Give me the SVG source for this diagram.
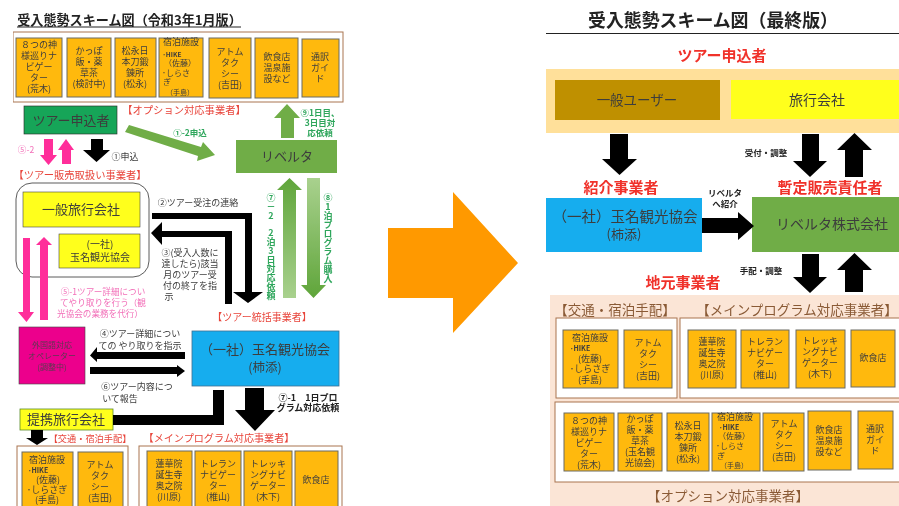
<svg xmlns="http://www.w3.org/2000/svg" width="899" height="506" viewBox="0 0 899 506">
<defs>
<filter id="soft" x="0" y="0" width="100%" height="100%"><feGaussianBlur stdDeviation="0.35"/></filter>
<linearGradient id="gUp" x1="0" y1="0" x2="0" y2="1"><stop offset="0" stop-color="#5FA53A"/><stop offset="1" stop-color="#A9D18E"/></linearGradient>
<linearGradient id="gDn" x1="0" y1="0" x2="0" y2="1"><stop offset="0" stop-color="#A9D18E"/><stop offset="1" stop-color="#5FA53A"/></linearGradient>
</defs>
<style>
text{font-family:"Noto Sans CJK JP","Liberation Sans",sans-serif;fill:#3c3c3c;text-anchor:middle}
.o{fill:#FFB911;stroke:#6a6a62;stroke-width:1}
.f{fill:#fff;stroke:#A9744F;stroke-width:1}
.s{font-size:9px}
.s8{font-size:8px}
.s10{font-size:10px}
.r{fill:#E8443A}
.rb{fill:#F0302A;font-weight:700;font-size:15px}
.bn{fill:#8a5a36;font-size:13.5px}
.g{fill:#2FA65C;font-weight:700;font-size:8.5px}
.p{fill:#F26FB8;font-size:8.6px}
.k{fill:#222;font-weight:700;font-size:9px}
.v{writing-mode:vertical-rl;text-orientation:upright;text-anchor:start}
.h{font-size:7px;font-weight:700;text-anchor:start}
</style>
<g filter="url(#soft)">
<g id="left-title"><text x="129.500" y="25" style="font-size:13.1px;font-weight:700;fill:#222">受入態勢スキーム図（令和3年1月版）</text><path d="M17 27H241" stroke="#222" stroke-width="1.2"/></g>

<g id="left-option">
<rect class="f" x="13" y="32" width="330" height="70"/>
<rect class="o" x="16" y="38" width="46" height="59"/><text class="s" x="39" y="48">８つの神<tspan x="39" dy="11">様巡りナ</tspan><tspan x="39" dy="11">ビゲー</tspan><tspan x="39" dy="11">ター</tspan><tspan x="39" dy="11">(荒木)</tspan></text>
<rect class="o" x="67" y="38" width="44" height="59"/><text class="s" x="89" y="54">かっぽ<tspan x="89" dy="11">飯・薬</tspan><tspan x="89" dy="11">草茶</tspan><tspan x="89" dy="11">(検討中)</tspan></text>
<rect class="o" x="115" y="38" width="41" height="59"/><text class="s" x="135" y="54">松永日<tspan x="135" dy="11">本刀鍛</tspan><tspan x="135" dy="11">錬所</tspan><tspan x="135" dy="11">(松永)</tspan></text>
<rect class="o" x="159" y="38" width="44" height="59"/><text class="s" x="181" y="45">宿泊施設</text><text class="s8" x="172" y="57" style="font-size:6.5px;font-weight:700">･HIKE</text><text class="s8" x="180" y="66">（佐藤）</text><text class="s8" x="176" y="76">･しらさ</text><text class="s8" x="167" y="85">ぎ</text><text class="s8" x="180" y="95" style="font-size:7px">（手島）</text>
<rect class="o" x="209" y="38" width="42" height="60"/><text class="s" x="230" y="55">アトム<tspan x="230" dy="11">タク</tspan><tspan x="230" dy="11">シー</tspan><tspan x="230" dy="11">(吉田)</tspan></text>
<rect class="o" x="255" y="38" width="43" height="60"/><text class="s" x="277" y="60">飲食店<tspan x="277" dy="11">温泉施</tspan><tspan x="277" dy="11">設など</tspan></text>
<rect class="o" x="302" y="39" width="37" height="58"/><text class="s" x="320" y="60">通訳<tspan x="320" dy="11">ガイ</tspan><tspan x="320" dy="11">ド</tspan></text>
<text class="r" x="184" y="114" style="font-size:10.3px">【オプション対応事業者】</text>
</g>

<g id="left-applicant"><rect x="24" y="106" width="93" height="28" fill="#18A558" stroke="#222" stroke-width=".6"/><text x="71" y="125" style="font-size:13px">ツアー申込者</text></g>
<g id="left-revelta"><rect x="236" y="140" width="101" height="33" fill="#70AD47"/><text x="287" y="161" style="font-size:13px">リベルタ</text></g>

<g id="left-sales">
<text class="r" x="80" y="179" style="font-size:10.3px">【ツアー販売取扱い事業者】</text>
<rect x="16" y="183" width="133" height="94" rx="16" fill="#fff" stroke="#333" stroke-width=".8"/>
<rect x="23" y="192" width="117" height="35" fill="#FFFF1A" stroke="#444" stroke-width=".6"/><text x="81" y="214" style="font-size:13px">一般旅行会社</text>
<rect x="59" y="234" width="81" height="34" fill="#FFFF1A" stroke="#444" stroke-width=".6"/><text class="s10" x="100" y="248">(一社)</text><text class="s10" x="100" y="261">玉名観光協会</text>
</g>

<g id="left-operator"><rect x="19" y="327" width="66" height="57" fill="#EC008C" stroke="#444" stroke-width=".6"/><text class="s8" x="52" y="348" style="fill:#5a3a50">外国語対応<tspan x="52" dy="11">オペレーター</tspan><tspan x="52" dy="11">(調整中)</tspan></text></g>
<g id="left-tamana"><rect x="192" y="331" width="147" height="55" fill="#17ADEE" stroke="#3d6f91" stroke-width=".8"/><text x="265" y="354" style="font-size:13px">（一社）玉名観光協会</text><text x="265" y="372" style="font-size:12.5px">(柿添)</text></g>
<g id="left-partner"><rect x="20" y="409" width="93" height="21" fill="#FFFF1A" stroke="#5b8a2b" stroke-width=".8"/><text x="66" y="424" style="font-size:13px">提携旅行会社</text></g>

<g id="left-transport">
<text class="r" x="90" y="442" style="font-size:9.2px">【交通・宿泊手配】</text>
<rect class="f" x="17" y="446" width="111" height="70"/>
<rect class="o" x="22" y="452" width="51" height="60"/><text class="s" x="47" y="463">宿泊施設</text><text class="h" x="28" y="473">･HIKE</text><text class="s" x="48" y="483">(佐藤)</text><text class="s" x="47" y="493">･しらさぎ</text><text class="s" x="47" y="503">(手島)</text>
<rect class="o" x="78" y="452" width="45" height="60"/><text class="s" x="100" y="468">アトム<tspan x="100" dy="11">タク</tspan><tspan x="100" dy="11">シー</tspan><tspan x="100" dy="11">(吉田)</tspan></text>
</g>
<g id="left-main">
<text class="r" x="219" y="442" style="font-size:10.1px">【メインプログラム対応事業者】</text>
<rect class="f" x="139" y="446" width="203" height="70"/>
<rect class="o" x="147" y="451" width="45" height="60"/><text class="s" x="169" y="467">蓮華院<tspan x="169" dy="11">誕生寺</tspan><tspan x="169" dy="11">奥之院</tspan><tspan x="169" dy="11">(川原)</tspan></text>
<rect class="o" x="195" y="451" width="46" height="60"/><text class="s" x="218" y="467">トレラン<tspan x="218" dy="11">ナビゲー</tspan><tspan x="218" dy="11">ター</tspan><tspan x="218" dy="11">(椎山)</tspan></text>
<rect class="o" x="244" y="451" width="48" height="60"/><text class="s" x="268" y="467">トレッキ<tspan x="268" dy="11">ングナビ</tspan><tspan x="268" dy="11">ゲーター</tspan><tspan x="268" dy="11">(木下)</tspan></text>
<rect class="o" x="295" y="451" width="43" height="60"/><text class="s" x="316" y="483">飲食店</text>
</g>

<g id="left-connectors">
<polygon points="125,132 129,125 201,147 203,142 215,155 197,161 198,156" fill="#70AD47"/>
<polygon points="281,138 294,138 294,118 300,118 287,104 274,118 281,118" fill="#70AD47"/>
<path d="M44 139H53V155H57L48.500 165L40 155H44Z" fill="#FF2E9A"/>
<path d="M62 164H71V150H74L66 139L58 150H62Z" fill="#FF2E9A"/>
<path d="M91 139H103V150H110L96.500 162L83 150H91Z" fill="#000"/>
<path d="M23 238H30V312H34L26.500 322L18 312H23Z" fill="#FF2E9A"/>
<path d="M40 320H48V245H52L44 237L36 245H40Z" fill="#FF2E9A"/>
<path d="M152 213H252V292H263L248 303L233 292H245V219H152Z" fill="#000"/>
<path d="M232 304H225V237H162V245L151 233L162 222V231H232Z" fill="#000"/>
<path d="M283 298H296V190H302L289.500 178L277 190H283Z" fill="url(#gUp)"/>
<path d="M307 178H320V285H326L313.500 298L301 285H307Z" fill="url(#gDn)"/>
<path d="M185 352V359H97V362L90 355.500L97 347V352Z" fill="#000"/>
<path d="M90 367H177V365L185 371L177 377V374H90Z" fill="#000"/>
<path d="M113 415H213V390H224V425H113Z" fill="#000"/>
<path d="M245 388H264V410H275L255 431L235 410H245Z" fill="#000"/>
<path d="M31 430H43V438H48L37 445L26 438H31Z" fill="#000"/>
</g>

<g id="left-labels">
<text class="g" x="320" y="116">⑨1日目、<tspan x="320" dy="10">3日目対</tspan><tspan x="320" dy="10">応依頼</tspan></text>
<text class="g" x="190" y="136">①-2申込</text>
<text class="p" x="26" y="153">⑤-2</text>
<text class="s" x="125" y="160">①申込</text>
<text class="s" x="198" y="206">②ツアー受注の連絡</text>
<text class="s" x="190" y="256">③(受入人数に<tspan x="190" dy="11">達したら)該当</tspan><tspan x="190" dy="11">月のツアー受</tspan><tspan x="190" dy="11">付の終了を指</tspan><tspan x="169" dy="11">示</tspan></text>
<text class="p" x="103" y="295">⑤-1ツアー詳細につい<tspan x="103" dy="11">てやり取りを行う（観</tspan><tspan x="100" dy="11">光協会の業務を代行）</tspan></text>
<text class="g v" x="271" y="193" style="font-size:9px">⑦－2</text>
<text class="g v" x="271" y="228" style="font-size:9px">2泊3日対応依頼</text>
<text class="g v" x="328" y="193" style="font-size:9px">⑧1泊プログラム購入</text>
<text class="r" x="262" y="321" style="font-size:10px">【ツアー統括事業者】</text>
<text class="s" x="140" y="337">④ツアー詳細につい</text><text class="s" x="140" y="349">ての やり取りを指示</text>
<text class="s" x="137" y="390">⑥ツアー内容につ</text><text class="s" x="120" y="402">いて報告</text>
<text class="k" x="308" y="401">⑦-1　1日プロ</text><text class="k" x="308" y="411">グラム対応依頼</text>
</g>

<g id="center-arrow"><polygon points="388,228 453,228 453,192 518,263 453,333 453,298 388,298" fill="#FF9900"/></g>

<g id="right-title"><text x="713" y="27" style="font-size:17.9px;font-weight:700;fill:#222">受入態勢スキーム図（最終版）</text><path d="M546 33.500H899" stroke="#222" stroke-width="1"/></g>
<g id="right-applicants">
<text class="rb" x="722" y="61">ツアー申込者</text>
<rect x="546" y="69" width="353" height="64" fill="#FFE09A"/>
<rect x="555" y="80" width="165" height="40" fill="#BF9000"/><text x="637" y="105" style="font-size:13.500px">一般ユーザー</text>
<rect x="731" y="80" width="168" height="39" fill="#FFFF1A"/><text x="817" y="105" style="font-size:14px">旅行会社</text>
</g>
<g id="right-intro"><text class="rb" x="621" y="193">紹介事業者</text><rect x="546" y="198" width="156" height="54" fill="#17ADEE"/><text x="625" y="222" style="font-size:14.5px">（一社）玉名観光協会</text><text x="624" y="239" style="font-size:13px">(柿添)</text></g>
<g id="right-seller"><text class="rb" x="830" y="193">暫定販売責任者</text><rect x="752" y="197" width="147" height="55" fill="#70AD47"/><text x="832" y="229" style="font-size:14px">リベルタ株式会社</text></g>
<g id="right-connectors">
<path d="M610 134H628V159H637L619.500 175L602 159H610Z" fill="#000"/>
<path d="M802 134H819V161H827L810 177L793 161H802Z" fill="#000"/>
<path d="M845 177H863V150H872L854.500 133L837 150H845Z" fill="#000"/>
<path d="M702 218H738V212L754 226L738 240V233H702Z" fill="#000"/>
<path d="M802 254H819V277H827L810 293L793 277H802Z" fill="#000"/>
<path d="M845 292H863V270H872L854.500 253L837 270H845Z" fill="#000"/>
</g>
<g id="right-labels">
<text class="k" x="766" y="156" style="font-size:8.500px">受付・調整</text>
<text class="k" x="725" y="196" style="font-size:8.500px">リベルタ</text><text class="k" x="725" y="207" style="font-size:8.500px">へ紹介</text>
<text class="k" x="761" y="274" style="font-size:8.500px">手配・調整</text>
<text class="rb" x="683" y="288">地元事業者</text>
</g>
<g id="right-local">
<rect x="550" y="295" width="349" height="211" fill="#FBE5D6"/>
<text class="bn" x="615" y="315">【交通・宿泊手配】</text>
<text class="bn" x="797" y="315">【メインプログラム対応事業者】</text>
<rect class="f" x="556" y="318" width="121" height="80"/>
<rect class="f" x="680" y="318" width="225" height="80"/>
<rect class="f" x="555" y="402" width="350" height="80"/>
<text class="bn" x="728" y="501">【オプション対応事業者】</text>
</g>
<g id="right-transport">
<rect class="o" x="563" y="330" width="55" height="58"/><text class="s" x="590" y="341">宿泊施設</text><text class="h" x="570" y="351">･HIKE</text><text class="s" x="590" y="362">(佐藤)</text><text class="s" x="590" y="372">･しらさぎ</text><text class="s" x="590" y="383">(手島)</text>
<rect class="o" x="624" y="330" width="48" height="58"/><text class="s" x="648" y="346">アトム<tspan x="648" dy="11">タク</tspan><tspan x="648" dy="11">シー</tspan><tspan x="648" dy="11">(吉田)</tspan></text>
</g>
<g id="right-main">
<rect class="o" x="688" y="330" width="48" height="58"/><text class="s" x="712" y="345">蓮華院<tspan x="712" dy="11">誕生寺</tspan><tspan x="712" dy="11">奥之院</tspan><tspan x="712" dy="11">(川原)</tspan></text>
<rect class="o" x="741" y="330" width="48" height="58"/><text class="s" x="765" y="345">トレラン<tspan x="765" dy="11">ナビゲー</tspan><tspan x="765" dy="11">ター</tspan><tspan x="765" dy="11">(椎山)</tspan></text>
<rect class="o" x="796" y="330" width="49" height="58"/><text class="s" x="820" y="344">トレッキ<tspan x="820" dy="11">ングナビ</tspan><tspan x="820" dy="11">ゲーター</tspan><tspan x="820" dy="11">(木下)</tspan></text>
<rect class="o" x="851" y="330" width="44" height="57"/><text class="s" x="873" y="361">飲食店</text>
</g>
<g id="right-option">
<rect class="o" x="564" y="413" width="50" height="58"/><text class="s" x="589" y="424">８つの神<tspan x="589" dy="11">様巡りナ</tspan><tspan x="589" dy="11">ビゲー</tspan><tspan x="589" dy="11">ター</tspan><tspan x="589" dy="11">(荒木)</tspan></text>
<rect class="o" x="618" y="413" width="44" height="58"/><text class="s" x="640" y="422">かっぽ<tspan x="640" dy="11">飯・薬</tspan><tspan x="640" dy="11">草茶</tspan><tspan x="640" dy="11">(玉名観</tspan><tspan x="640" dy="11">光協会)</tspan></text>
<rect class="o" x="667" y="413" width="42" height="58"/><text class="s" x="688" y="429">松永日<tspan x="688" dy="11">本刀鍛</tspan><tspan x="688" dy="11">錬所</tspan><tspan x="688" dy="11">(松永)</tspan></text>
<rect class="o" x="712" y="413" width="48" height="58"/><text class="s" x="735" y="420">宿泊施設</text><text class="h" x="719" y="430">･HIKE</text><text class="s8" x="734" y="439">（佐藤）</text><text class="s8" x="730" y="449">･しらさ</text><text class="s8" x="721" y="459">ぎ</text><text class="s8" x="734" y="468" style="font-size:7px">（手島）</text>
<rect class="o" x="763" y="413" width="41" height="58"/><text class="s" x="784" y="427">アトム<tspan x="784" dy="11">タク</tspan><tspan x="784" dy="11">シー</tspan><tspan x="784" dy="11">(吉田)</tspan></text>
<rect class="o" x="808" y="411" width="43" height="59"/><text class="s" x="829" y="433">飲食店<tspan x="829" dy="11">温泉施</tspan><tspan x="829" dy="11">設など</tspan></text>
<rect class="o" x="858" y="411" width="35" height="58"/><text class="s" x="875" y="432">通訳<tspan x="875" dy="11">ガイ</tspan><tspan x="875" dy="11">ド</tspan></text>
</g>
</g>
</svg>
